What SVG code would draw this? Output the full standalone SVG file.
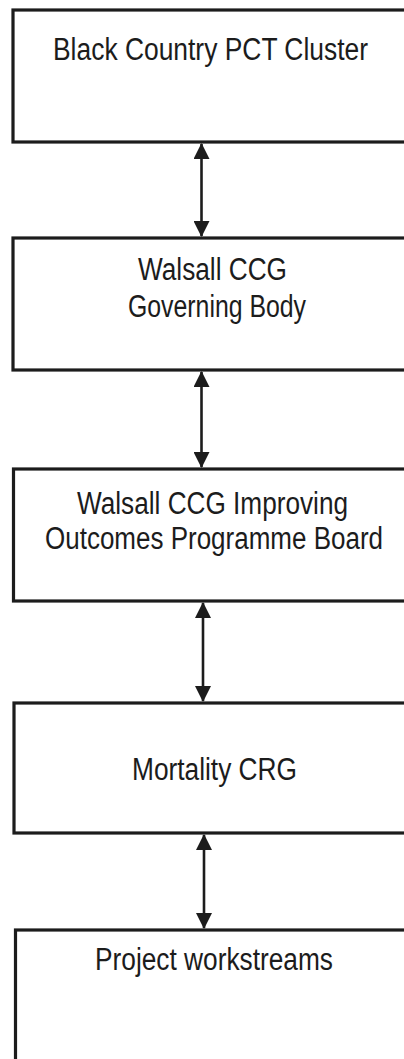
<svg xmlns="http://www.w3.org/2000/svg" width="404" height="1059" viewBox="0 0 404 1059">
<style>
.box{fill:#fff;stroke:#1c1c1c;stroke-width:3.2}
.lbl{font-family:"Liberation Sans","Arial",sans-serif;font-size:26px;fill:#1c1c1c;text-anchor:middle}
.conn{stroke:#1c1c1c;stroke-width:2.6;fill:none;marker-start:url(#ah);marker-end:url(#ah)}
</style>
<defs>
<marker id="ah" markerUnits="userSpaceOnUse" markerWidth="16" markerHeight="16" viewBox="0 0 16 16" refX="15" refY="8" orient="auto-start-reverse">
<path d="M0,0 L16,8 L0,16 Z" fill="#1c1c1c"/>
</marker>
</defs>
<rect width="404" height="1059" fill="#fff"/>
<g id="node-pct">
<rect class="box" x="13" y="10" width="400" height="132"/>
<text class="lbl" transform="translate(210.5,60) scale(1,1.2)" textLength="315" lengthAdjust="spacingAndGlyphs">Black Country PCT Cluster</text>
</g>
<g id="node-gb">
<rect class="box" x="13" y="238" width="400" height="132"/>
<text class="lbl" transform="translate(212.5,280) scale(1,1.2)" textLength="149" lengthAdjust="spacingAndGlyphs">Walsall CCG</text>
<text class="lbl" transform="translate(217,317) scale(1,1.2)" textLength="178" lengthAdjust="spacingAndGlyphs">Governing Body</text>
</g>
<g id="node-iopb">
<rect class="box" x="13.5" y="469" width="400" height="132"/>
<text class="lbl" transform="translate(212.5,514) scale(1,1.2)" textLength="271" lengthAdjust="spacingAndGlyphs">Walsall CCG Improving</text>
<text class="lbl" transform="translate(214,549) scale(1,1.2)" textLength="338" lengthAdjust="spacingAndGlyphs">Outcomes Programme Board</text>
</g>
<g id="node-crg">
<rect class="box" x="14" y="703" width="400" height="130"/>
<text class="lbl" transform="translate(214.5,780) scale(1,1.2)" textLength="165" lengthAdjust="spacingAndGlyphs">Mortality CRG</text>
</g>
<g id="node-pw">
<rect class="box" x="15.5" y="930" width="400" height="140"/>
<text class="lbl" transform="translate(214,970) scale(1,1.2)" textLength="238" lengthAdjust="spacingAndGlyphs">Project workstreams</text>
</g>
<g id="connectors">
<line class="conn" x1="201.5" y1="144" x2="201.5" y2="236"/>
<line class="conn" x1="201.5" y1="372" x2="201.5" y2="467"/>
<line class="conn" x1="203" y1="603" x2="203" y2="701"/>
<line class="conn" x1="204" y1="835" x2="204" y2="928"/>
</g>
</svg>
